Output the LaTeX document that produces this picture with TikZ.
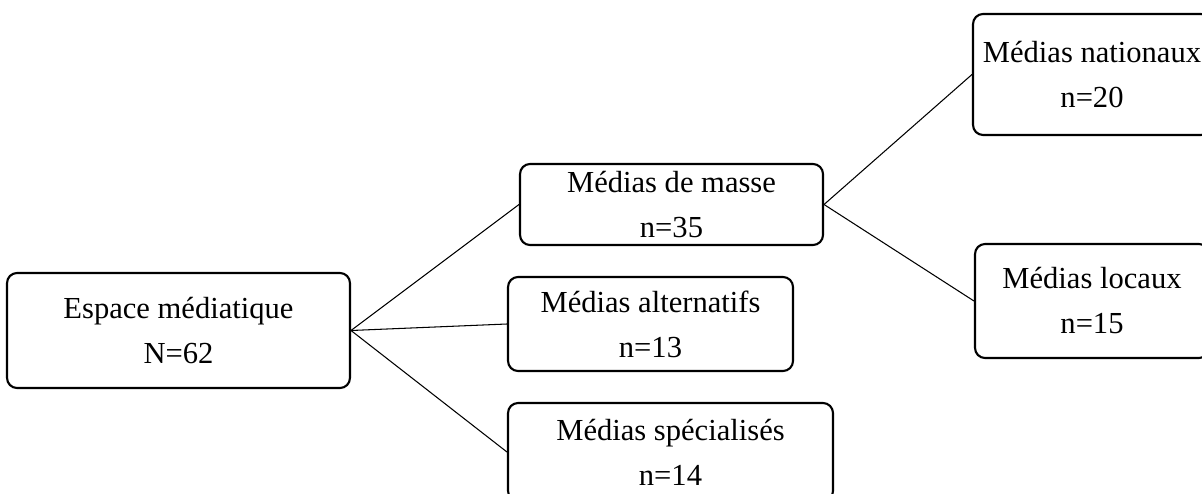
\documentclass[tikz,border=0pt]{standalone}
\usepackage{fontspec}
\setmainfont{Liberation Serif}
\usepackage{tikz}
\tikzstyle{boite} = [rectangle, rounded corners=0.2cm, draw=black, line width=1.2pt, align=center, inner sep=0pt, font=\fontsize{17.4}{25.6}\selectfont]
\tikzstyle{lien} = [line width=0.6pt]

\begin{document}
\begin{tikzpicture}[x=0.02cm, y=-0.02cm]

        \clip (0,0) rectangle (1202,493);

        \node (root) [boite, minimum width=6.86cm, minimum height=2.3cm] at (178.5,330.5) {Espace médiatique\\N=62};

        \node (masse) [boite, minimum width=6.06cm, minimum height=1.62cm] at (671.5,204.5) {Médias de masse\\n=35};
        \node (alt) [boite, minimum width=5.7cm, minimum height=1.88cm] at (650.5,324) {Médias alternatifs\\n=13};
        \node (spec) [boite, minimum width=6.5cm, minimum height=1.96cm] at (670.5,452) {Médias spécialisés\\n=14};

        \node (nat) [boite, minimum width=4.76cm, minimum height=2.42cm] at (1092,74.5) {Médias nationaux\\n=20};
        \node (loc) [boite, minimum width=4.68cm, minimum height=2.28cm] at (1092,301) {Médias locaux\\n=15};

        \draw[lien] (root.east) -- (masse.west);
        \draw[lien] (root.east) -- (alt.west);
        \draw[lien] (root.east) -- (spec.west);

        \draw[lien] (masse.east) -- (nat.west);
        \draw[lien] (masse.east) -- (loc.west);

    \end{tikzpicture}
\end{document}
